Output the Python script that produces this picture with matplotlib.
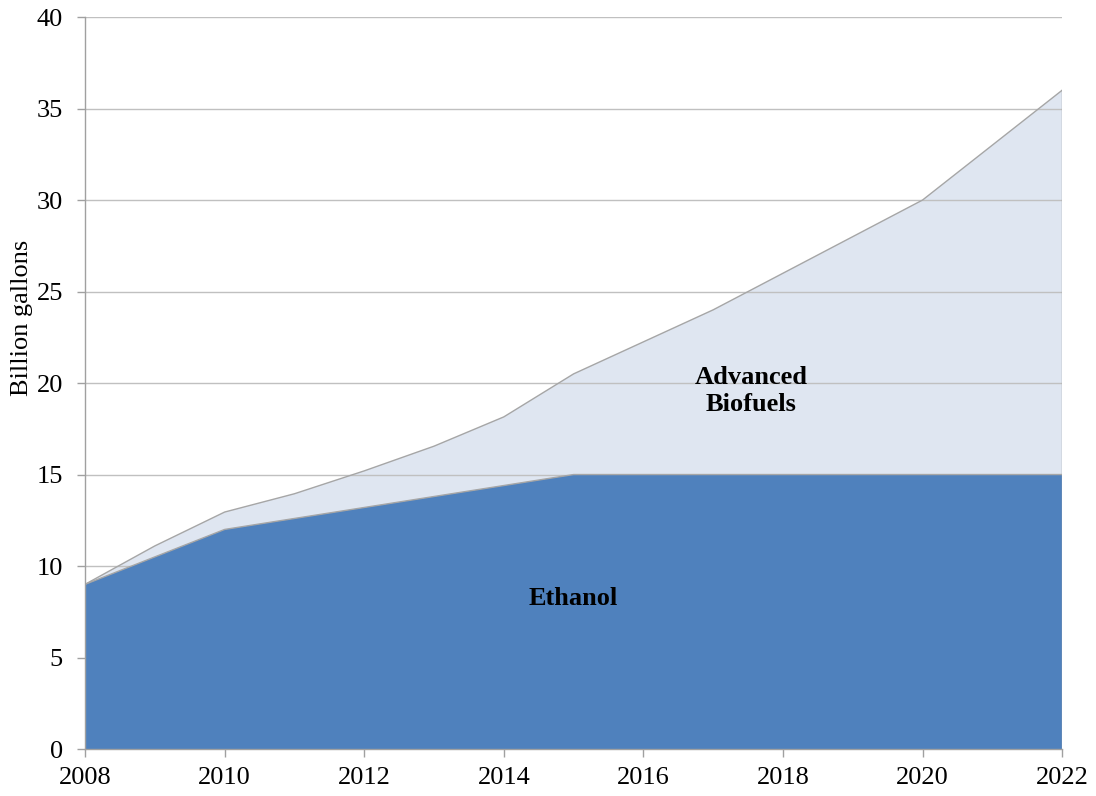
import matplotlib
matplotlib.use("Agg")
import matplotlib.pyplot as plt

# Renewable fuel standard volumes (billion gallons)
years = [2008, 2009, 2010, 2011, 2012, 2013, 2014, 2015,
         2016, 2017, 2018, 2019, 2020, 2021, 2022]
ethanol = [9.0, 10.5, 12.0, 12.6, 13.2, 13.8, 14.4, 15.0,
           15.0, 15.0, 15.0, 15.0, 15.0, 15.0, 15.0]
total = [9.0, 11.1, 12.95, 13.95, 15.2, 16.55, 18.15, 20.5,
         22.25, 24.0, 26.0, 28.0, 30.0, 33.0, 36.0]
x_ticks = [2008, 2010, 2012, 2014, 2016, 2018, 2020, 2022]
y_ticks = [0, 5, 10, 15, 20, 25, 30, 35, 40]

plt.rcParams["font.family"] = ["Liberation Serif", "DejaVu Serif"]
FS = 19

fig = plt.figure(figsize=(10.96, 7.96), dpi=100)
ax = fig.add_axes([0.0776, 0.059, 0.8915, 0.9196])

edge = "#a6a6a6"
# light fill under the grid, dark fill on top of it (as in the original)
ax.fill_between(years, ethanol, total, facecolor="#dfe6f1", edgecolor="none", zorder=1)
for yv in y_ticks:
    ax.axhline(yv, color="#c0c0c0", lw=1.0, zorder=1.5)
ax.fill_between(years, 0, ethanol, facecolor="#4f81bd", edgecolor="none", zorder=2)
ax.plot(years, total, color=edge, lw=1.0, zorder=3)
ax.plot(years, ethanol, color=edge, lw=1.0, zorder=3)
ax.plot([2022, 2022], [0, total[-1]], color=edge, lw=1.0, zorder=3)

ax.set_xlim(2008, 2022)
ax.set_ylim(0, 40)
ax.set_xticks(x_ticks)
ax.set_yticks(y_ticks)

for s in ["top", "right"]:
    ax.spines[s].set_visible(False)
for s in ["left", "bottom"]:
    ax.spines[s].set_color("#a0a0a0")
    ax.spines[s].set_linewidth(1.0)
    ax.spines[s].set_zorder(4)
ax.tick_params(axis="both", colors="#a0a0a0", labelcolor="black",
               labelsize=FS, length=6, width=1.0, direction="out")
ax.tick_params(axis="x", pad=7)
ax.tick_params(axis="y", pad=10)

fig.text(22 / 1096, 1 - 318 / 796, "Billion gallons", fontsize=FS,
         rotation=90, ha="center", va="center")

ax.text(2015.0, 8.2, "Ethanol", fontsize=FS, fontweight="bold",
        ha="center", va="center", zorder=4)
ax.text(2017.55, 19.55, "Advanced\nBiofuels", fontsize=FS, fontweight="bold",
        ha="center", va="center", linespacing=1.2, zorder=4)

fig.savefig("out.png", dpi=100)
